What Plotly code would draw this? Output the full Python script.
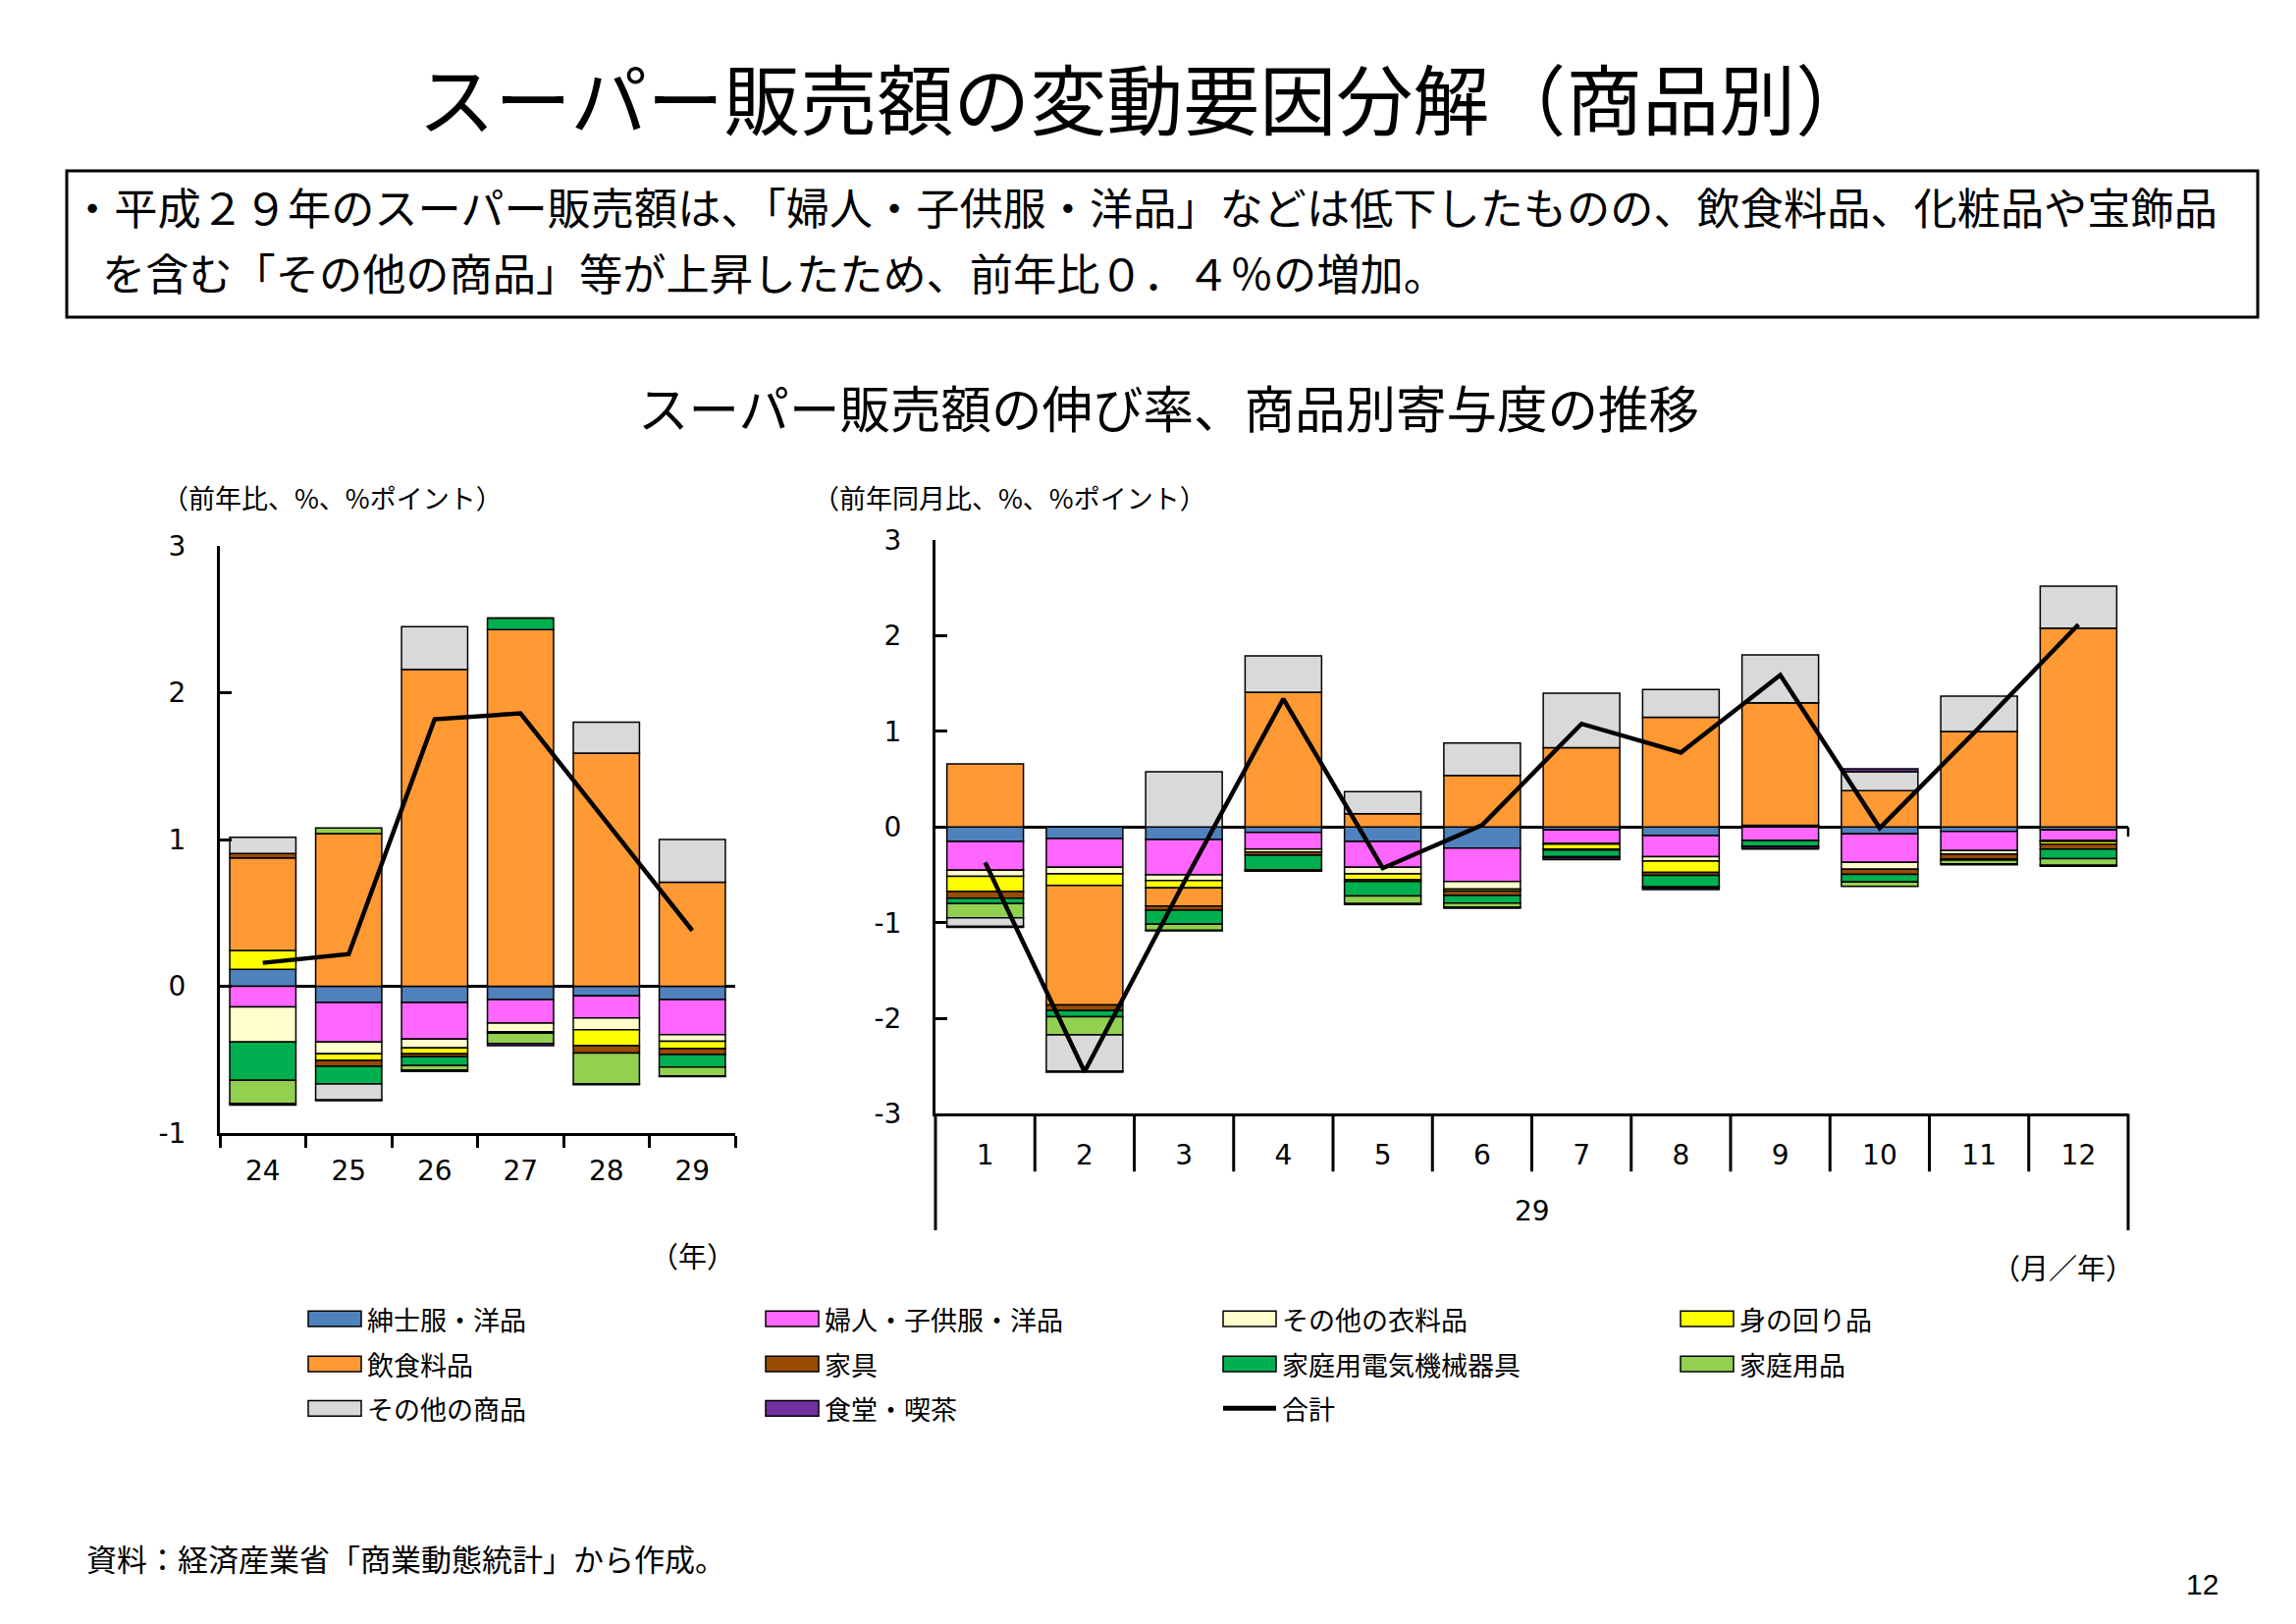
import plotly.graph_objects as go

# series (stack order as in the source chart)
names = ["紳士服・洋品", "婦人・子供服・洋品", "その他の衣料品", "身の回り品", "飲食料品",
         "家具", "家庭用電気機械器具", "家庭用品", "その他の商品", "食堂・喫茶"]
colors = ["#4F81BD", "#FF66FF", "#FFFFCC", "#FFFF00", "#FF9933",
          "#994C00", "#00B050", "#92D050", "#D9D9D9", "#7030A0"]

# annual contributions (平成24-29年)
years = ["24", "25", "26", "27", "28", "29"]
y_mens = [0.115, -0.11, -0.11, -0.09, -0.065, -0.09]
y_womens = [-0.14, -0.27, -0.25, -0.16, -0.15, -0.24]
y_otherwear = [-0.24, -0.08, -0.06, -0.06, -0.08, -0.045]
y_personal = [0.13, -0.045, -0.04, 0.0, -0.11, -0.05]
y_food = [0.63, 1.04, 2.16, 2.43, 1.59, 0.71]
y_furniture = [0.03, -0.04, -0.02, -0.01, -0.05, -0.04]
y_appliance = [-0.26, -0.12, -0.06, 0.08, 0.0, -0.085]
y_household = [-0.16, 0.04, -0.03, -0.07, -0.21, -0.06]
y_othergoods = [0.11, -0.11, 0.29, 0.0, 0.21, 0.29]
y_restaurant = [-0.01, -0.005, -0.01, -0.015, -0.005, -0.005]
y_total = [0.16, 0.22, 1.82, 1.86, 1.12, 0.38]

# monthly contributions (平成29年1-12月)
months = [str(m) for m in range(1, 13)]
m_mens = [-0.15, -0.12, -0.13, -0.055, -0.15, -0.22, -0.03, -0.09, 0.02, -0.07, -0.045, -0.03]
m_womens = [-0.30, -0.30, -0.37, -0.175, -0.27, -0.35, -0.14, -0.22, -0.14, -0.30, -0.20, -0.11]
m_otherwear = [-0.065, -0.07, -0.06, -0.03, -0.07, -0.08, -0.01, -0.045, 0.0, -0.07, -0.04, -0.01]
m_personal = [-0.16, -0.12, -0.075, 0.0, -0.06, -0.02, -0.05, -0.12, 0.0, 0.0, 0.0, -0.03]
m_food = [0.66, -1.25, -0.19, 1.41, 0.14, 0.54, 0.83, 1.15, 1.28, 0.38, 1.0, 2.08]
m_furniture = [-0.07, -0.06, -0.045, -0.035, -0.02, -0.045, -0.01, -0.03, 0.0, -0.055, -0.05, -0.05]
m_appliance = [-0.055, -0.065, -0.145, -0.15, -0.15, -0.08, -0.07, -0.12, -0.06, -0.08, -0.01, -0.10]
m_household = [-0.15, -0.19, -0.065, -0.01, -0.08, -0.045, -0.01, -0.01, -0.01, -0.045, -0.04, -0.07]
m_othergoods = [-0.09, -0.38, 0.58, 0.38, 0.23, 0.34, 0.57, 0.29, 0.50, 0.2, 0.37, 0.44]
m_restaurant = [-0.01, -0.01, -0.005, -0.005, -0.01, -0.01, -0.02, -0.02, -0.02, 0.03, -0.01, -0.01]
m_total = [-0.37, -2.56, -0.58, 1.34, -0.43, 0.02, 1.08, 0.78, 1.59, -0.01, 1.04, 2.12]

annual = [y_mens, y_womens, y_otherwear, y_personal, y_food,
          y_furniture, y_appliance, y_household, y_othergoods, y_restaurant]
monthly = [m_mens, m_womens, m_otherwear, m_personal, m_food,
           m_furniture, m_appliance, m_household, m_othergoods, m_restaurant]

left_ticks = [-1, 0, 1, 2, 3]
right_ticks = [-3, -2, -1, 0, 1, 2, 3]

W, H = 2339, 1654
JP = "Noto Sans CJK JP"
NUM = "DejaVu Sans"


def px(x):
    return x / W


def py(y):
    return 1 - y / H


fig = go.Figure()

for name, color, ya, ym in zip(names, colors, annual, monthly):
    fig.add_trace(go.Bar(x=years, y=ya, name=name, marker_color=color,
                         marker_line=dict(color="black", width=1.5),
                         xaxis="x", yaxis="y", showlegend=False))
    fig.add_trace(go.Bar(x=months, y=ym, name=name, marker_color=color,
                         marker_line=dict(color="black", width=1.5),
                         xaxis="x2", yaxis="y2", showlegend=False))

fig.add_trace(go.Scatter(x=years, y=y_total, name="合計", mode="lines",
                         line=dict(color="black", width=4.5),
                         xaxis="x", yaxis="y", showlegend=False))
fig.add_trace(go.Scatter(x=months, y=m_total, name="合計", mode="lines",
                         line=dict(color="black", width=4.5),
                         xaxis="x2", yaxis="y2", showlegend=False))

yax = dict(showline=True, linewidth=3, linecolor="black", ticks="inside",
           ticklen=12, tickwidth=3, tickcolor="black", showgrid=False,
           zeroline=True, zerolinecolor="black", zerolinewidth=2.5,
           tickfont=dict(family=NUM, size=28, color="black"),
           ticklabelstandoff=26)

fig.update_layout(
    width=W, height=H, margin=dict(l=0, r=0, t=0, b=0),
    paper_bgcolor="white", plot_bgcolor="white",
    barmode="relative", bargap=0.23, showlegend=False,
    xaxis=dict(domain=[px(216), px(741)], type="category", anchor="y",
               showline=True, linewidth=3, linecolor="black",
               ticks="outside", tickson="boundaries", ticklen=12,
               tickwidth=3, tickcolor="black", showgrid=False,
               ticklabelstandoff=11,
               tickfont=dict(family=NUM, size=28, color="black")),
    yaxis=dict(domain=[py(1153), py(543)], range=[-1, 3],
               tickmode="array", tickvals=left_ticks,
               ticktext=[str(v) for v in left_ticks], anchor="x", **yax),
    xaxis2=dict(domain=[px(945), px(2160)], type="category", anchor="y2",
                showline=True, linewidth=3, linecolor="black",
                ticks="", showgrid=False, ticklabelstandoff=15,
                tickfont=dict(family=NUM, size=28, color="black")),
    yaxis2=dict(domain=[py(1133), py(537)], range=[-3, 3],
                tickmode="array", tickvals=right_ticks,
                ticktext=[str(v) for v in right_ticks], anchor="x2", **yax),
)

ann = []
shapes = []

# titles and text box
ann.append(dict(text="スーパー販売額の変動要因分解（商品別）", x=px(1158), y=py(75),
                font=dict(family=JP, size=78, color="black")))
shapes.append(dict(type="rect", xref="paper", yref="paper",
                   x0=px(60), x1=px(2292), y0=py(153), y1=py(305),
                   line=dict(color="black", width=3)))
ann.append(dict(text="・平成２９年のスーパー販売額は、「婦人・子供服・洋品」などは低下したものの、飲食料品、化粧品や宝飾品",
                x=px(62), y=py(190), xanchor="left",
                font=dict(family=JP, size=44.2, color="black")))
ann.append(dict(text="を含む「その他の商品」等が上昇したため、前年比０．４％の増加。",
                x=px(94), y=py(258), xanchor="left",
                font=dict(family=JP, size=44.2, color="black")))
ann.append(dict(text="スーパー販売額の伸び率、商品別寄与度の推移", x=px(1182), y=py(397),
                font=dict(family=JP, size=51.5, color="black")))

# axis captions
ann.append(dict(text="（前年比、%、%ポイント）", x=px(155), y=py(492), xanchor="left",
                font=dict(family=JP, size=27, color="black")))
ann.append(dict(text="（前年同月比、%、%ポイント）", x=px(818), y=py(492), xanchor="left",
                font=dict(family=JP, size=27, color="black")))
ann.append(dict(text="（年）", x=px(743), y=py(1280), xanchor="right",
                font=dict(family=JP, size=29, color="black")))
ann.append(dict(text="（月／年）", x=px(2168), y=py(1292), xanchor="right",
                font=dict(family=JP, size=29, color="black")))
ann.append(dict(text="29", xref="x2 domain", x=0.5, y=py(1234),
                font=dict(family=NUM, size=28, color="black")))

# month dividers below the monthly axis, and its long edge lines
for k in range(len(months) - 1):
    shapes.append(dict(type="line", xref="x2", yref="paper", x0=k + 0.5, x1=k + 0.5,
                       y0=py(1133), y1=py(1193), line=dict(color="black", width=3)))
for xd in (0, 1):
    shapes.append(dict(type="line", xref="x2 domain", yref="paper", x0=xd, x1=xd,
                       y0=py(1133), y1=py(1254), line=dict(color="black", width=3)))
shapes.append(dict(type="line", xref="x2 domain", yref="y2", x0=1, x1=1,
                   y0=0, y1=-0.1, line=dict(color="black", width=2.5)))

# legend drawn as a 4-column grid
col_x = [306, 772, 1238, 1704]
row_y = [1346, 1393, 1439]
legend_items = list(zip(names, colors)) + [("合計", None)]
for i, (name, color) in enumerate(legend_items):
    cx = col_x[i % 4]
    cy = row_y[i // 4]
    if color is None:
        shapes.append(dict(type="line", xref="paper", yref="paper",
                           x0=px(cx), x1=px(cx + 54), y0=py(cy), y1=py(cy),
                           line=dict(color="black", width=5)))
    else:
        shapes.append(dict(type="rect", xref="paper", yref="paper",
                           x0=px(cx), x1=px(cx + 54), y0=py(cy + 8), y1=py(cy - 8),
                           fillcolor=color, line=dict(color="black", width=1.5)))
    ann.append(dict(text=name, x=px(cx + 58), y=py(cy), xanchor="left",
                    font=dict(family=JP, size=27, color="black")))

# source and page number
ann.append(dict(text="資料：経済産業省「商業動態統計」から作成。", x=px(78), y=py(1594),
                xanchor="left", font=dict(family=JP, size=31, color="black")))
ann.append(dict(text="12", x=px(2254), y=py(1622),
                font=dict(family="Liberation Sans", size=30, color="black")))

for a in ann:
    a.setdefault("xref", "paper")
    a.setdefault("yref", "paper")
    a.setdefault("showarrow", False)
    a.setdefault("yanchor", "middle")

fig.update_layout(annotations=ann, shapes=shapes)

fig.write_html("out.html")
